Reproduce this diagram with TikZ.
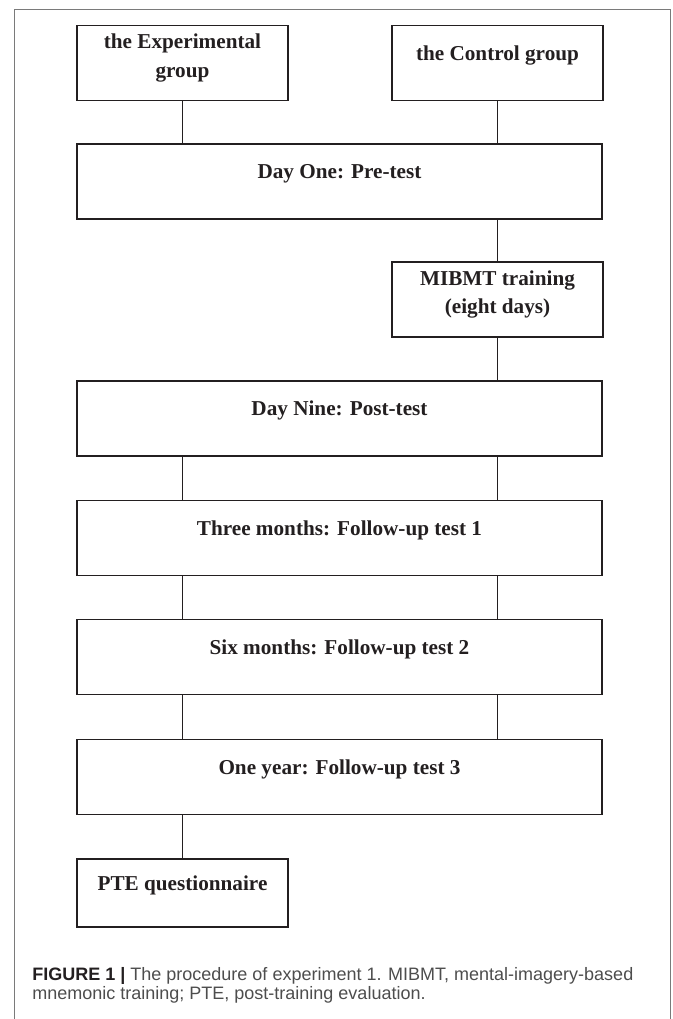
\documentclass[tikz,border=0pt]{standalone}
\usepackage{fontspec}
\setmainfont{Liberation Serif}
\setsansfont{Liberation Sans}
\usetikzlibrary{positioning}
\definecolor{ink}{HTML}{231F20}
\definecolor{rim}{HTML}{7A7A7A}
\definecolor{captext}{HTML}{4D4D4D}

\begin{document}
\begin{tikzpicture}[x=0.5pt,y=-0.5pt,
    box/.style={draw=ink,line width=0.65pt,inner sep=0pt,minimum height=37.5pt},
    half/.style={box,minimum width=105.5pt},
    full/.style={box,minimum width=262.5pt},
    txt/.style={text=ink,inner sep=0pt,align=center,yshift=4pt,font=\fontsize{10.6}{14.2}\selectfont\bfseries},
    txttwo/.style={txt,yshift=-1.5pt},
    link/.style={draw=ink,line width=0.65pt}]
            \useasboundingbox (0,0) rectangle (673,1019);
            \draw[rim,line width=0.5pt] (14,1019) -- (14,9) -- (670,9) -- (670,1019);

            \node[half,label={[txttwo]center:{the Experimental\\group}}] (exp)  at (182.5,63) {};
            \node[half,label={[txt]center:{the Control group}}]          (ctrl) at (497.5,63) {};

            \node[full,label={[txt]center:{Day One: Pre-test}}]                (pre)   at (339.5,181.5) {};
            \node[half,label={[txttwo]center:{MIBMT training\\(eight days)}}]  (mibmt) at (497.5,299.5) {};
            \node[full,label={[txt]center:{Day Nine: Post-test}}]              (post)  at (339.5,418.5) {};
            \node[full,label={[txt]center:{Three months: Follow-up test 1}}]   (fu1)   at (339.5,538) {};
            \node[full,label={[txt]center:{Six months: Follow-up test 2}}]     (fu2)   at (339.5,657) {};
            \node[full,label={[txt]center:{One year: Follow-up test 3}}]       (fu3)   at (339.5,777) {};
            \node[half,minimum height=34pt,label={[txt]center:{PTE questionnaire}}] (pte) at (182.5,893) {};

            \draw[link] (exp) -- (exp |- pre.north);
            \draw[link] (ctrl) -- (ctrl |- pre.north);
            \draw[link] (mibmt) -- (mibmt |- pre.south);
            \draw[link] (mibmt) -- (mibmt |- post.north);
            \foreach \a/\b in {post/fu1,fu1/fu2,fu2/fu3} {
                \draw[link] (\a.south -| exp) -- (\b.north -| exp);
                \draw[link] (\a.south -| ctrl) -- (\b.north -| ctrl);
            }
            \draw[link] (pte) -- (pte |- fu3.south);

            \node[anchor=west,inner sep=0pt,align=left,text=captext,font=\sffamily\fontsize{9}{9.6}\selectfont] (cap) at (32,985)
                {{\color{ink}\bfseries FIGURE 1 |} The procedure of experiment 1. MIBMT, mental-imagery-based\\mnemonic training; PTE, post-training evaluation.};
        \end{tikzpicture}
\end{document}
